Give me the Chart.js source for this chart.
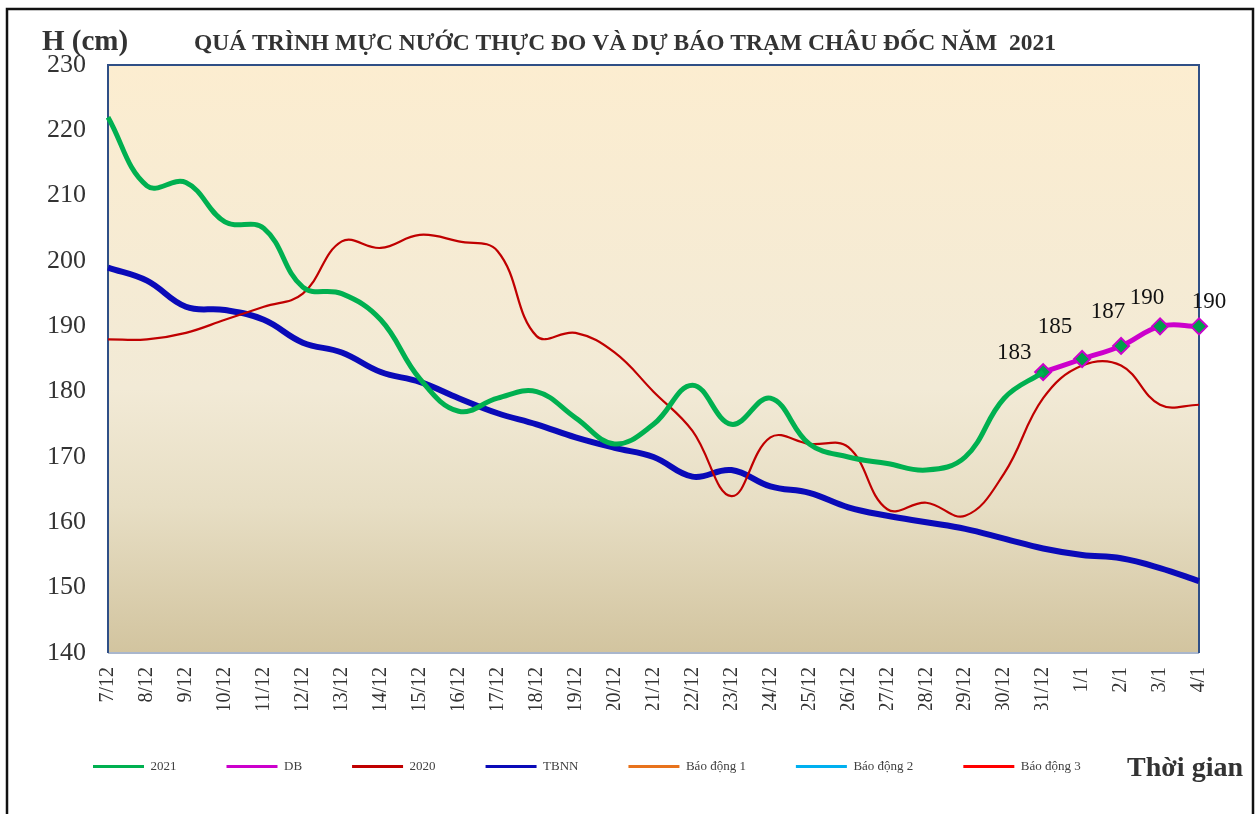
<!DOCTYPE html>
<html>
<head>
<meta charset="utf-8">
<style>
  body { margin: 0; background: #fff; }
  canvas { display: block; }
</style>
<script src="https://cdn.jsdelivr.net/npm/chart.js@4.4.0/dist/chart.umd.min.js"></script>
</head>
<body>
<canvas id="mucNuoc" width="1259" height="814"></canvas>
<script>
  // ngày
  const labels = ['7/12', '8/12', '9/12', '10/12', '11/12', '12/12', '13/12', '14/12', '15/12', '16/12',
    '17/12', '18/12', '19/12', '20/12', '21/12', '22/12', '23/12', '24/12', '25/12', '26/12',
    '27/12', '28/12', '29/12', '30/12', '31/12', '1/1', '2/1', '3/1', '4/1'];

  // mực nước (cm)
  const h2021 = [222, 211.5, 212, 206, 205, 196, 195, 191, 182, 177,
    179, 180, 176, 172, 175, 181, 175, 179, 172, 170,
    169, 168, 170, 179, 183, null, null, null, null];
  const duBao = [null, null, null, null, null, null, null, null, null, null,
    null, null, null, null, null, null, null, null, null, null,
    null, null, null, null, 183, 185, 187, 190, 190];
  const h2020 = [188, 188, 189, 191, 193, 195, 203, 202, 204, 203,
    201.5, 188.5, 189, 186, 180, 174, 164, 173, 172, 171.5,
    162, 163, 161, 167.5, 179, 184, 184, 178, 178];
  const tbnn = [199, 197, 193, 192.5, 191, 187.5, 186, 183, 181.5, 179,
    176.7, 175, 173, 171.4, 170, 167, 168, 165.5, 164.5, 162.3,
    161, 160, 159, 157.5, 156, 155, 154.5, 153, 151];
  // mức báo động nằm ngoài khung trục (không vẽ trong vùng 140-230)
  const baoDong1 = [];
  const baoDong2 = [];
  const baoDong3 = [];

  const yTicks = [140, 150, 160, 170, 180, 190, 200, 210, 220, 230];

  // lệch nhãn số liệu dự báo so với điểm
  const nhanLech = [[-29, -19], [-27, -32], [-13, -34], [-13, -28], [10, -24]];

  const serif = '"Liberation Serif", "Times New Roman", serif';

  const trangTri = {
    id: 'trangTri',
    beforeDraw(chart) {
      const { ctx, chartArea: a } = chart;
      ctx.save();
      ctx.fillStyle = '#fff';
      ctx.fillRect(0, 0, chart.width, chart.height);
      const g = ctx.createLinearGradient(0, a.top, 0, a.bottom);
      g.addColorStop(0, '#FCEDD0');
      g.addColorStop(0.55, '#F2EAD6');
      g.addColorStop(0.75, '#E7DEC4');
      g.addColorStop(1, '#D2C49F');
      ctx.fillStyle = g;
      ctx.fillRect(a.left, a.top, a.right - a.left, a.bottom - a.top);
      ctx.restore();
    },
    beforeDatasetsDraw(chart) {
      const { ctx, chartArea: a } = chart;
      ctx.save();
      ctx.lineWidth = 2;
      ctx.strokeStyle = '#A9B6CC';
      ctx.beginPath();
      ctx.moveTo(a.left, a.bottom);
      ctx.lineTo(a.right, a.bottom);
      ctx.stroke();
      ctx.strokeStyle = '#2F4F86';
      ctx.beginPath();
      ctx.moveTo(a.left, a.bottom);
      ctx.lineTo(a.left, a.top);
      ctx.lineTo(a.right, a.top);
      ctx.lineTo(a.right, a.bottom);
      ctx.stroke();
      ctx.restore();
    },
    afterDraw(chart) {
      const { ctx } = chart;
      ctx.save();
      // khung ngoài
      ctx.strokeStyle = '#111';
      ctx.lineWidth = 2.5;
      ctx.strokeRect(7, 9, 1246, 820);

      ctx.fillStyle = '#333';
      ctx.textBaseline = 'alphabetic';
      ctx.textAlign = 'left';
      ctx.font = 'bold 29px ' + serif;
      ctx.fillText('H (cm)', 42, 50);
      ctx.font = 'bold 23.5px ' + serif;
      ctx.fillText('QUÁ TRÌNH MỰC NƯỚC THỰC ĐO VÀ DỰ BÁO TRẠM CHÂU ĐỐC NĂM  2021', 194, 50);
      ctx.textAlign = 'right';
      ctx.font = 'bold 28px ' + serif;
      ctx.fillText('Thời gian', 1243, 776);

      // nhãn dự báo
      const meta = chart.getDatasetMeta(1);
      ctx.fillStyle = '#111';
      ctx.font = '23px ' + serif;
      ctx.textAlign = 'center';
      ctx.textBaseline = 'middle';
      let k = 0;
      meta.data.forEach((pt, i) => {
        if (duBao[i] == null) return;
        const d = nhanLech[k++] || [0, -25];
        ctx.fillText(String(duBao[i]), pt.x + d[0], pt.y + d[1]);
      });
      ctx.restore();
    }
  };

  const ctx = document.getElementById('mucNuoc').getContext('2d');
  new Chart(ctx, {
    type: 'line',
    data: {
      labels: labels,
      datasets: [
        { label: '2021', data: h2021, borderColor: '#00B050', backgroundColor: '#00B050',
          borderWidth: 5, pointRadius: 0, tension: 0.4 },
        { label: 'DB', data: duBao, borderColor: '#CC00CC', backgroundColor: '#CC00CC',
          borderWidth: 5, tension: 0.4, pointStyle: 'rectRot', pointRadius: 8,
          pointBackgroundColor: '#00A04A', pointBorderColor: '#CC00CC', pointBorderWidth: 2 },
        { label: '2020', data: h2020, borderColor: '#C00000', backgroundColor: '#C00000',
          borderWidth: 2.2, pointRadius: 0, tension: 0.4 },
        { label: 'TBNN', data: tbnn, borderColor: '#0A0AB8', backgroundColor: '#0A0AB8',
          borderWidth: 6, pointRadius: 0, tension: 0.4 },
        { label: 'Báo động 1', data: baoDong1, borderColor: '#E8731C', backgroundColor: '#E8731C',
          borderWidth: 3, pointRadius: 0 },
        { label: 'Báo động 2', data: baoDong2, borderColor: '#00B0F0', backgroundColor: '#00B0F0',
          borderWidth: 3, pointRadius: 0 },
        { label: 'Báo động 3', data: baoDong3, borderColor: '#FF0000', backgroundColor: '#FF0000',
          borderWidth: 3, pointRadius: 0 }
      ]
    },
    options: {
      responsive: false,
      animation: false,
      layout: { padding: { left: 43, right: 60, top: 65, bottom: 31 } },
      plugins: {
        tooltip: { enabled: false },
        legend: {
          position: 'bottom',
          align: 'start',
          labels: {
            boxWidth: 51,
            boxHeight: 3,
            padding: 50,
            color: '#404040',
            font: { family: serif, size: 13 },
            generateLabels(chart) {
              const items = Chart.defaults.plugins.legend.labels.generateLabels(chart);
              return items.map(it => Object.assign(it, { lineWidth: 0 }));
            }
          }
        }
      },
      scales: {
        x: {
          grid: { display: false },
          border: { display: false },
          ticks: {
            autoSkip: false, maxRotation: 90, minRotation: 90, padding: 6,
            color: '#333', font: { family: serif, size: 20 }
          },
          afterFit(scale) { scale.height = 57; }
        },
        y: {
          min: 140, max: 230,
          grid: { display: false, drawTicks: false },
          border: { display: false },
          afterBuildTicks(scale) { scale.ticks = yTicks.map(v => ({ value: v })); },
          ticks: {
            padding: 22,
            color: '#333', font: { family: serif, size: 26 }
          },
          afterFit(scale) { scale.width = 65; }
        }
      }
    },
    plugins: [trangTri]
  });
</script>
</body>
</html>
